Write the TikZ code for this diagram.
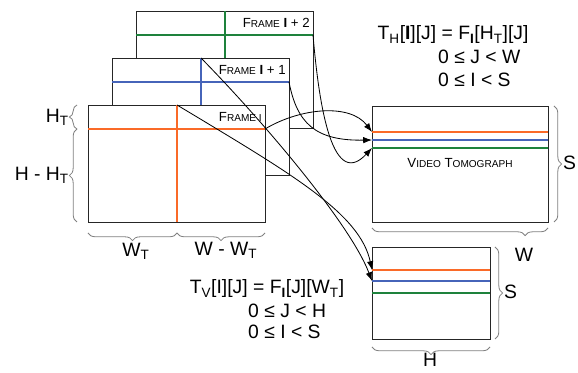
\documentclass[tikz,border=0pt]{standalone}
\usepackage{fontspec}
\setmainfont{Liberation Sans}
\usepackage{tikz}
\usetikzlibrary{arrows.meta, decorations.pathreplacing}

\definecolor{sliceorange}{RGB}{250,106,40}
\definecolor{sliceblue}{RGB}{70,100,185}
\definecolor{slicegreen}{RGB}{30,130,60}
\newcommand{\smc}[1]{{\fontsize{8.6}{10}\selectfont #1}}

\begin{document}
\begin{tikzpicture}[x=0.03cm, y=0.03cm, >={Latex[length=7.5pt,width=5.5pt]},
	every node/.style={font=\fontsize{16.5}{19}\selectfont, inner sep=0pt},
	frame/.style={draw=black!85, fill=white, line width=0.8pt, minimum width=5.31cm, minimum height=3.51cm},
	tag/.style={font=\fontsize{11.3}{13}\selectfont, anchor=east},
	bracegray/.style={draw=gray, line width=0.7pt, decorate, decoration={brace, amplitude=6.5pt}},
	slice/.style={line width=1.6pt},
	link/.style={->, line width=0.7pt}]
	\useasboundingbox (0,0) rectangle (578,373);
	
	% === 三帧视频 (从后往前画) ===
	\node[frame] (f2) at (224.5,303.5) {};
	\coordinate (f2l) at (136,338); \coordinate (f2r) at (313,338);
	\coordinate (f2t) at (225,362); \coordinate (f2b) at (225,245);
	\draw[slice, slicegreen] (f2l) -- (f2r);
	\draw[slice, slicegreen] (f2t) -- (f2b);
	\node[tag] (f2tag) at (310,350) {F\smc{RAME} \textbf{I} + 2};
	
	\node[frame] (f1) at (200.5,256.5) {};
	\coordinate (f1l) at (112,291); \coordinate (f1r) at (289,291);
	\coordinate (f1t) at (201,315); \coordinate (f1b) at (201,198);
	\draw[slice, sliceblue] (f1l) -- (f1r);
	\draw[slice, sliceblue] (f1t) -- (f1b);
	\node[tag] (f1tag) at (286,303) {F\smc{RAME} \textbf{I} + 1};
	
	\node[frame] (f0) at (176.5,209.5) {};
	\coordinate (f0l) at (88,244); \coordinate (f0r) at (265,244);
	\coordinate (f0t) at (177,268); \coordinate (f0b) at (177,151);
	\draw[slice, sliceorange] (f0l) -- (f0r);
	\draw[slice, sliceorange] (f0t) -- (f0b);
	\node[tag] (f0tag) at (262,256) {F\smc{RAME I}};
	
	% 帧的尺寸标注
	\draw[bracegray] (77,244) -- (77,268);
	\node[anchor=east] (ht) at (69,256) {H\textsubscript{T}};
	\draw[bracegray] (77,151) -- (77,244);
	\node[anchor=east] (hrest) at (69,198) {H - H\textsubscript{T}};
	\draw[bracegray] (177,140) -- (88,140);
	\node (wt) at (136,122) {W\textsubscript{T}};
	\draw[bracegray] (265,140) -- (177,140);
	\node (wrest) at (226,123) {W - W\textsubscript{T}};
	
	% === 水平切片 ===
	\node[frame, minimum width=5.28cm, minimum height=3.48cm] (tomo) at (460,209) {};
	\coordinate (to) at (372,241); \coordinate (tb) at (372,233); \coordinate (tg) at (372,225);
	\draw[slice, sliceorange] (to) -- (548,241);
	\draw[slice, sliceblue] (tb) -- (548,233);
	\draw[slice, slicegreen] (tg) -- (548,225);
	\node[tag, anchor=center] (tomotag) at (460,210) {V\smc{IDEO} T\smc{OMOGRAPH}};
	\draw[bracegray] (554,267) -- (554,151);
	\node[anchor=west] (ts) at (563,210) {S};
	\draw[bracegray, decoration={aspect=0.13}] (548,145) -- (372,145);
	\node (tw) at (524,118) {W};
	
	\node (th) at (453,338) {T\textsubscript{H}[\textbf{I}][J] = F\textsubscript{\textbf{I}}[H\textsubscript{T}][J]};
	\node[anchor=west] (thj) at (438,316) {0 ≤ J < W};
	\node[anchor=west] (thi) at (438,293) {0 ≤ I < S};
	
	% === 竖直切片 ===
	\node[frame, minimum width=3.54cm, minimum height=2.76cm] (slab) at (431,80) {};
	\coordinate (so) at (372,103); \coordinate (sb) at (372,92); \coordinate (sg) at (372,80);
	\draw[slice, sliceorange] (so) -- (490,103);
	\draw[slice, sliceblue] (sb) -- (490,92);
	\draw[slice, slicegreen] (sg) -- (490,80);
	\draw[bracegray] (495,126) -- (495,34);
	\node[anchor=west] (ss) at (504,81) {S};
	\draw[bracegray] (490,26) -- (372,26);
	\node (sh) at (430,13) {H};
	
	\node (tv) at (267,84) {T\textsubscript{V}[I][J] = F\textsubscript{\textbf{I}}[J][W\textsubscript{T}]};
	\node[anchor=west] (tvj) at (248,62) {0 ≤ J < H};
	\node[anchor=west] (tvi) at (248,41) {0 ≤ I < S};
	
	% 切片连线
	\draw[link] (f0r) .. controls (300,265) and (350,270) .. (to);
	\draw[link] (f1r) .. controls (297,250) and (315,232) .. (tb);
	\draw[link] (f2r) .. controls (318,280) and (330,180) .. (tg);
	\draw[link] (f0t) .. controls (290,200) and (360,160) .. (so);
	\draw[link] (f1t) .. controls (260,255) and (350,150) .. (sb);
\end{tikzpicture}
\end{document}
